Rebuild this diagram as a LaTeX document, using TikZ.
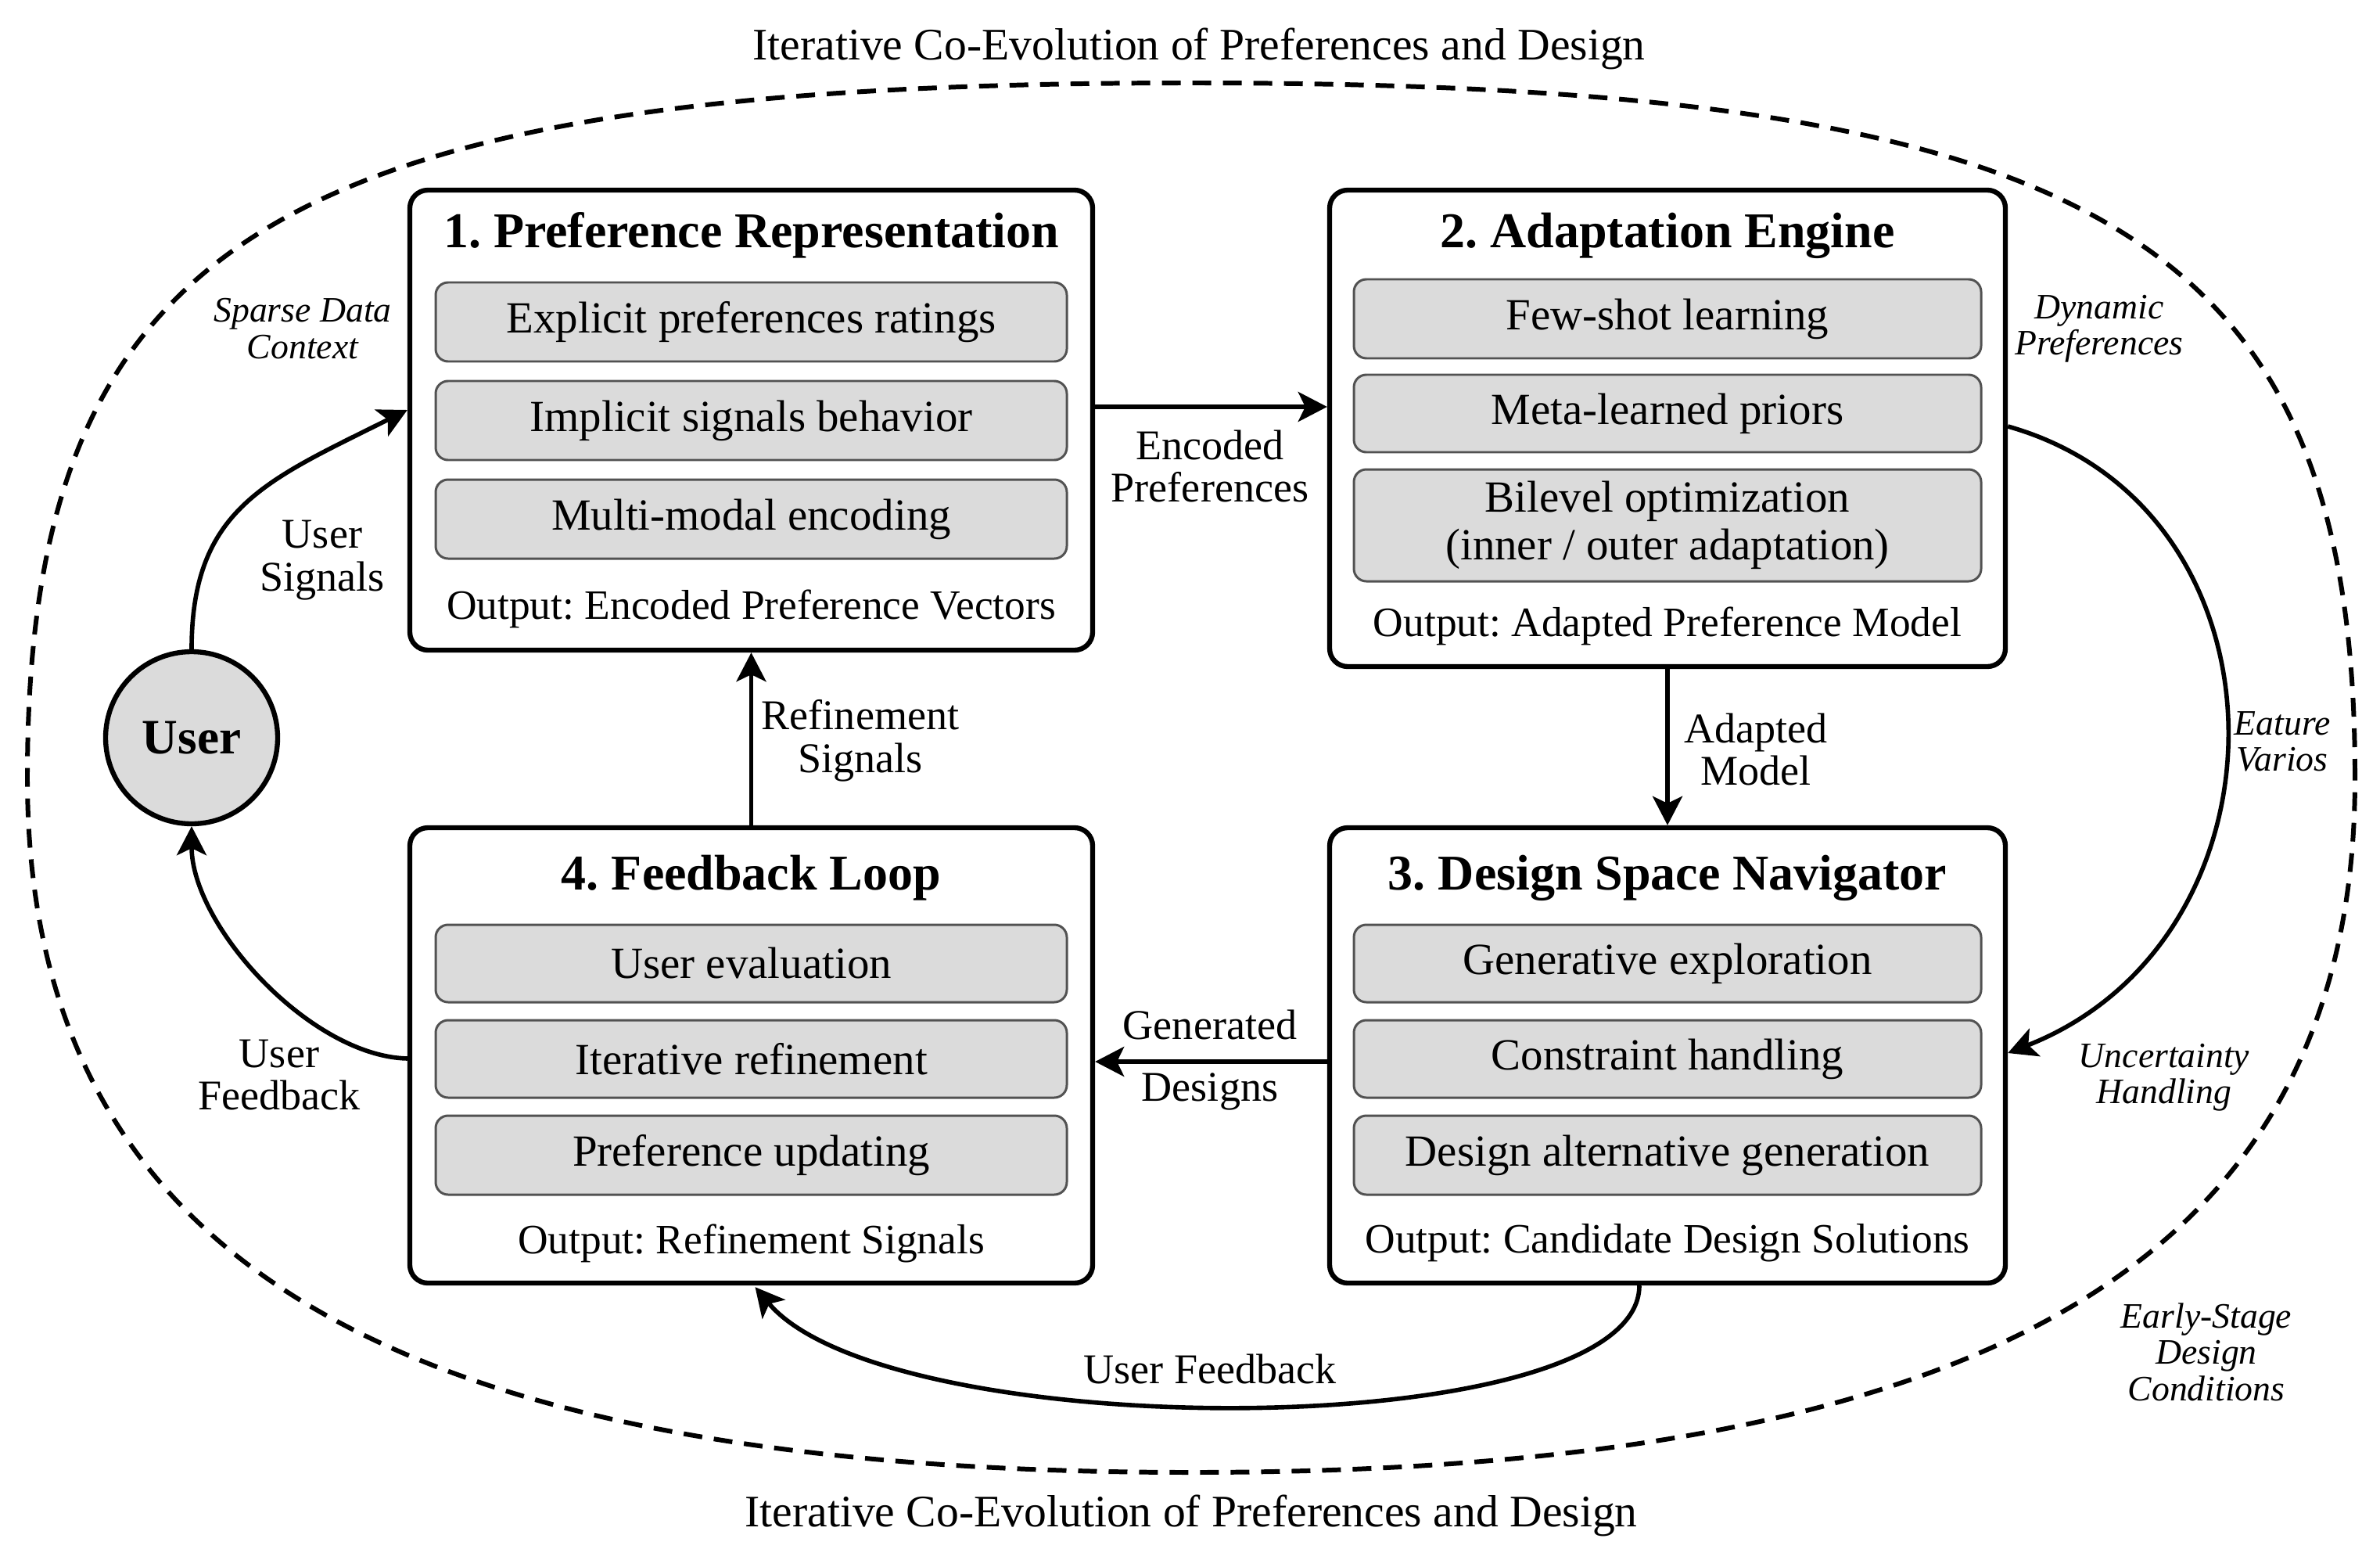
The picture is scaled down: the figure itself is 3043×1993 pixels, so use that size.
\documentclass[tikz,border=0pt]{standalone}
\usepackage{fontspec}
\setmainfont{Liberation Serif}
\usetikzlibrary{arrows.meta,calc}
\newcommand\fTitle{\fontsize{18.2}{21}\selectfont\bfseries}
\newcommand\fRow{\fontsize{16.2}{17.5}\selectfont}
\newcommand\fOut{\fontsize{15.2}{17}\selectfont}
\newcommand\fLab{\fontsize{15.4}{15.6}\selectfont}
\newcommand\fIt{\fontsize{13}{13.2}\selectfont\itshape}
\newcommand\fHead{\fontsize{16.4}{18}\selectfont}
\tikzset{
  stagebox/.style={draw=black, line width=1.8pt, rounded corners=2.3mm, fill=white, inner sep=0pt},
  rowbox/.style={draw=black!68, line width=0.85pt, rounded corners=1.6mm, fill=black!14, inner sep=0pt, align=center, font=\fRow},
  titletext/.style={inner sep=0pt, font=\fTitle},
  outtext/.style={inner sep=0pt, font=\fOut},
  labtext/.style={inner sep=0pt, align=center, font=\fLab},
  ittext/.style={inner sep=0pt, align=center, font=\fIt},
  conn/.style={-{Stealth[length=3.7mm,width=3.8mm,inset=0.9mm]}, line width=1.6pt},
  frame/.style={line width=1.7pt, dash pattern=on 2.4mm off 1.5mm},
}
\begin{document}
\frenchspacing
\begin{tikzpicture}[x=0.1mm,y=-0.1mm]
\useasboundingbox (0,0) rectangle (3043,1993);
\fill[white] (0,0) rectangle (3043,1993);

% outer dashed frame (squarish ellipse)
\draw[frame] (3011,994) .. controls (3011,301.4) and (2683.6,106) .. (1523,106)
  .. controls (362.4,106) and (35,301.4) .. (35,994)
  .. controls (35,1607) and (496,1882) .. (1523,1882)
  .. controls (2550,1882) and (3011,1607) .. (3011,994) -- cycle;

\node[font=\fHead, inner sep=0pt] (toptitle) at (1533,62) {Iterative Co-Evolution of Preferences and Design};
\node[font=\fHead, inner sep=0pt] (bottitle) at (1523,1937) {Iterative Co-Evolution of Preferences and Design};

% stage boxes
\node[stagebox, minimum width=87.3mm, minimum height=58.8mm] (box1) at (960.5,537) {};
\node[stagebox, minimum width=86.4mm, minimum height=60.9mm] (box2) at (2132,547.5) {};
\node[stagebox, minimum width=87.3mm, minimum height=58.2mm] (box4) at (960.5,1349) {};
\node[stagebox, minimum width=86.4mm, minimum height=58.2mm] (box3) at (2132,1349) {};

% box 1
\node[titletext] (t1) at (960.5,301) {1. Preference Representation};
\node[rowbox, minimum width=80.7mm, minimum height=10.1mm] (r11) at (960.5,411.5) {Explicit preferences ratings};
\node[rowbox, minimum width=80.7mm, minimum height=10.1mm] (r12) at (960.5,537.5) {Implicit signals behavior};
\node[rowbox, minimum width=80.7mm, minimum height=10.1mm] (r13) at (960.5,663.5) {Multi-modal encoding};
\node[outtext] (o1) at (960.5,778) {Output: Encoded Preference Vectors};

% box 2
\node[titletext] (t2) at (2132,301) {2. Adaptation Engine};
\node[rowbox, minimum width=80.2mm, minimum height=10.1mm] (r21) at (2132,407.5) {Few-shot learning};
\node[rowbox, minimum width=80.2mm, minimum height=9.9mm] (r22) at (2132,528.5) {Meta-learned priors};
\node[rowbox, minimum width=80.2mm, minimum height=14.3mm] (r23) at (2132,671.5) {Bilevel optimization\\(inner / outer adaptation)};
\node[outtext] (o2) at (2132,800) {Output: Adapted Preference Model};

% box 4
\node[titletext] (t4) at (960.5,1122) {4. Feedback Loop};
\node[rowbox, minimum width=80.7mm, minimum height=9.9mm] (r41) at (960.5,1231.5) {User evaluation};
\node[rowbox, minimum width=80.7mm, minimum height=9.9mm] (r42) at (960.5,1353.5) {Iterative refinement};
\node[rowbox, minimum width=80.7mm, minimum height=10.1mm] (r43) at (960.5,1476.5) {Preference updating};
\node[outtext] (o4) at (960.5,1589) {Output: Refinement Signals};

% box 3
\node[titletext] (t3) at (2132,1122) {3. Design Space Navigator};
\node[rowbox, minimum width=80.2mm, minimum height=9.9mm] (r31) at (2132,1231.5) {Generative exploration};
\node[rowbox, minimum width=80.2mm, minimum height=9.9mm] (r32) at (2132,1353.5) {Constraint handling};
\node[rowbox, minimum width=80.2mm, minimum height=10.1mm] (r33) at (2132,1476.5) {Design alternative generation};
\node[outtext] (o3) at (2132,1589) {Output: Candidate Design Solutions};

% user
\node[circle, draw=black, line width=1.8pt, fill=black!14, minimum size=22mm, inner sep=0pt,
      font=\fontsize{18}{20}\selectfont\bfseries] (user) at (245,943) {User};

% connectors
\draw[conn] ($(box1.east)+(0,-17)$) -- ($(box2.west)+(0,-27.5)$);
\draw[conn] (box2.south) -- (box3.north);
\draw[conn] ($(box3.west)+(0,8)$) -- ($(box4.east)+(0,8)$);
\draw[conn] (box4.north) -- (box1.south);
\draw[conn] (user.north) .. controls +(0,-180) and +(-180,90) .. ($(box1.west)+(0,-13)$);
\draw[conn] ($(box4.west)+(0,4)$) .. controls +(-124,-3) and +(0,127) .. (user.south);
\draw[conn] ($(box2.east)+(0,-2.5)$) .. controls +(372,105) and +(372,-146) .. ($(box3.east)+(0,-3)$);
\draw[conn] ($(box3.south)+(-36,0)$) .. controls +(0,204) and +(171,204) .. ($(box4.south)+(5,2)$);

% connector labels
\node[labtext] (lenc) at (1547,596) {Encoded\\Preferences};
\node[labtext] (ladp) at (2245,958) {Adapted\\Model};
\node[labtext] (lref) at (1100,947) {Refinement\\Signals};
\node[labtext] (lgen) at (1547,1310) {Generated};
\node[labtext] (ldes) at (1547,1395) {Designs};
\node[labtext] (lusig) at (412,716) {User\\Signals};
\node[labtext] (lufb) at (357,1374) {User\\Feedback};
\node[labtext] (lbfb) at (1547,1750) {User Feedback};

% italic context labels
\node[ittext] (lsparse) at (387,420) {Sparse Data\\Context};
\node[ittext] (ldyn) at (2684,420) {Dynamic\\Preferences};
\node[ittext] (leat) at (2918,948) {Eature\\Varios};
\node[ittext] (lunc) at (2767,1377) {Uncertainty\\Handling};
\node[ittext] (learly) at (2821,1728) {Early-Stage\\Design\\Conditions};
\end{tikzpicture}
\end{document}
